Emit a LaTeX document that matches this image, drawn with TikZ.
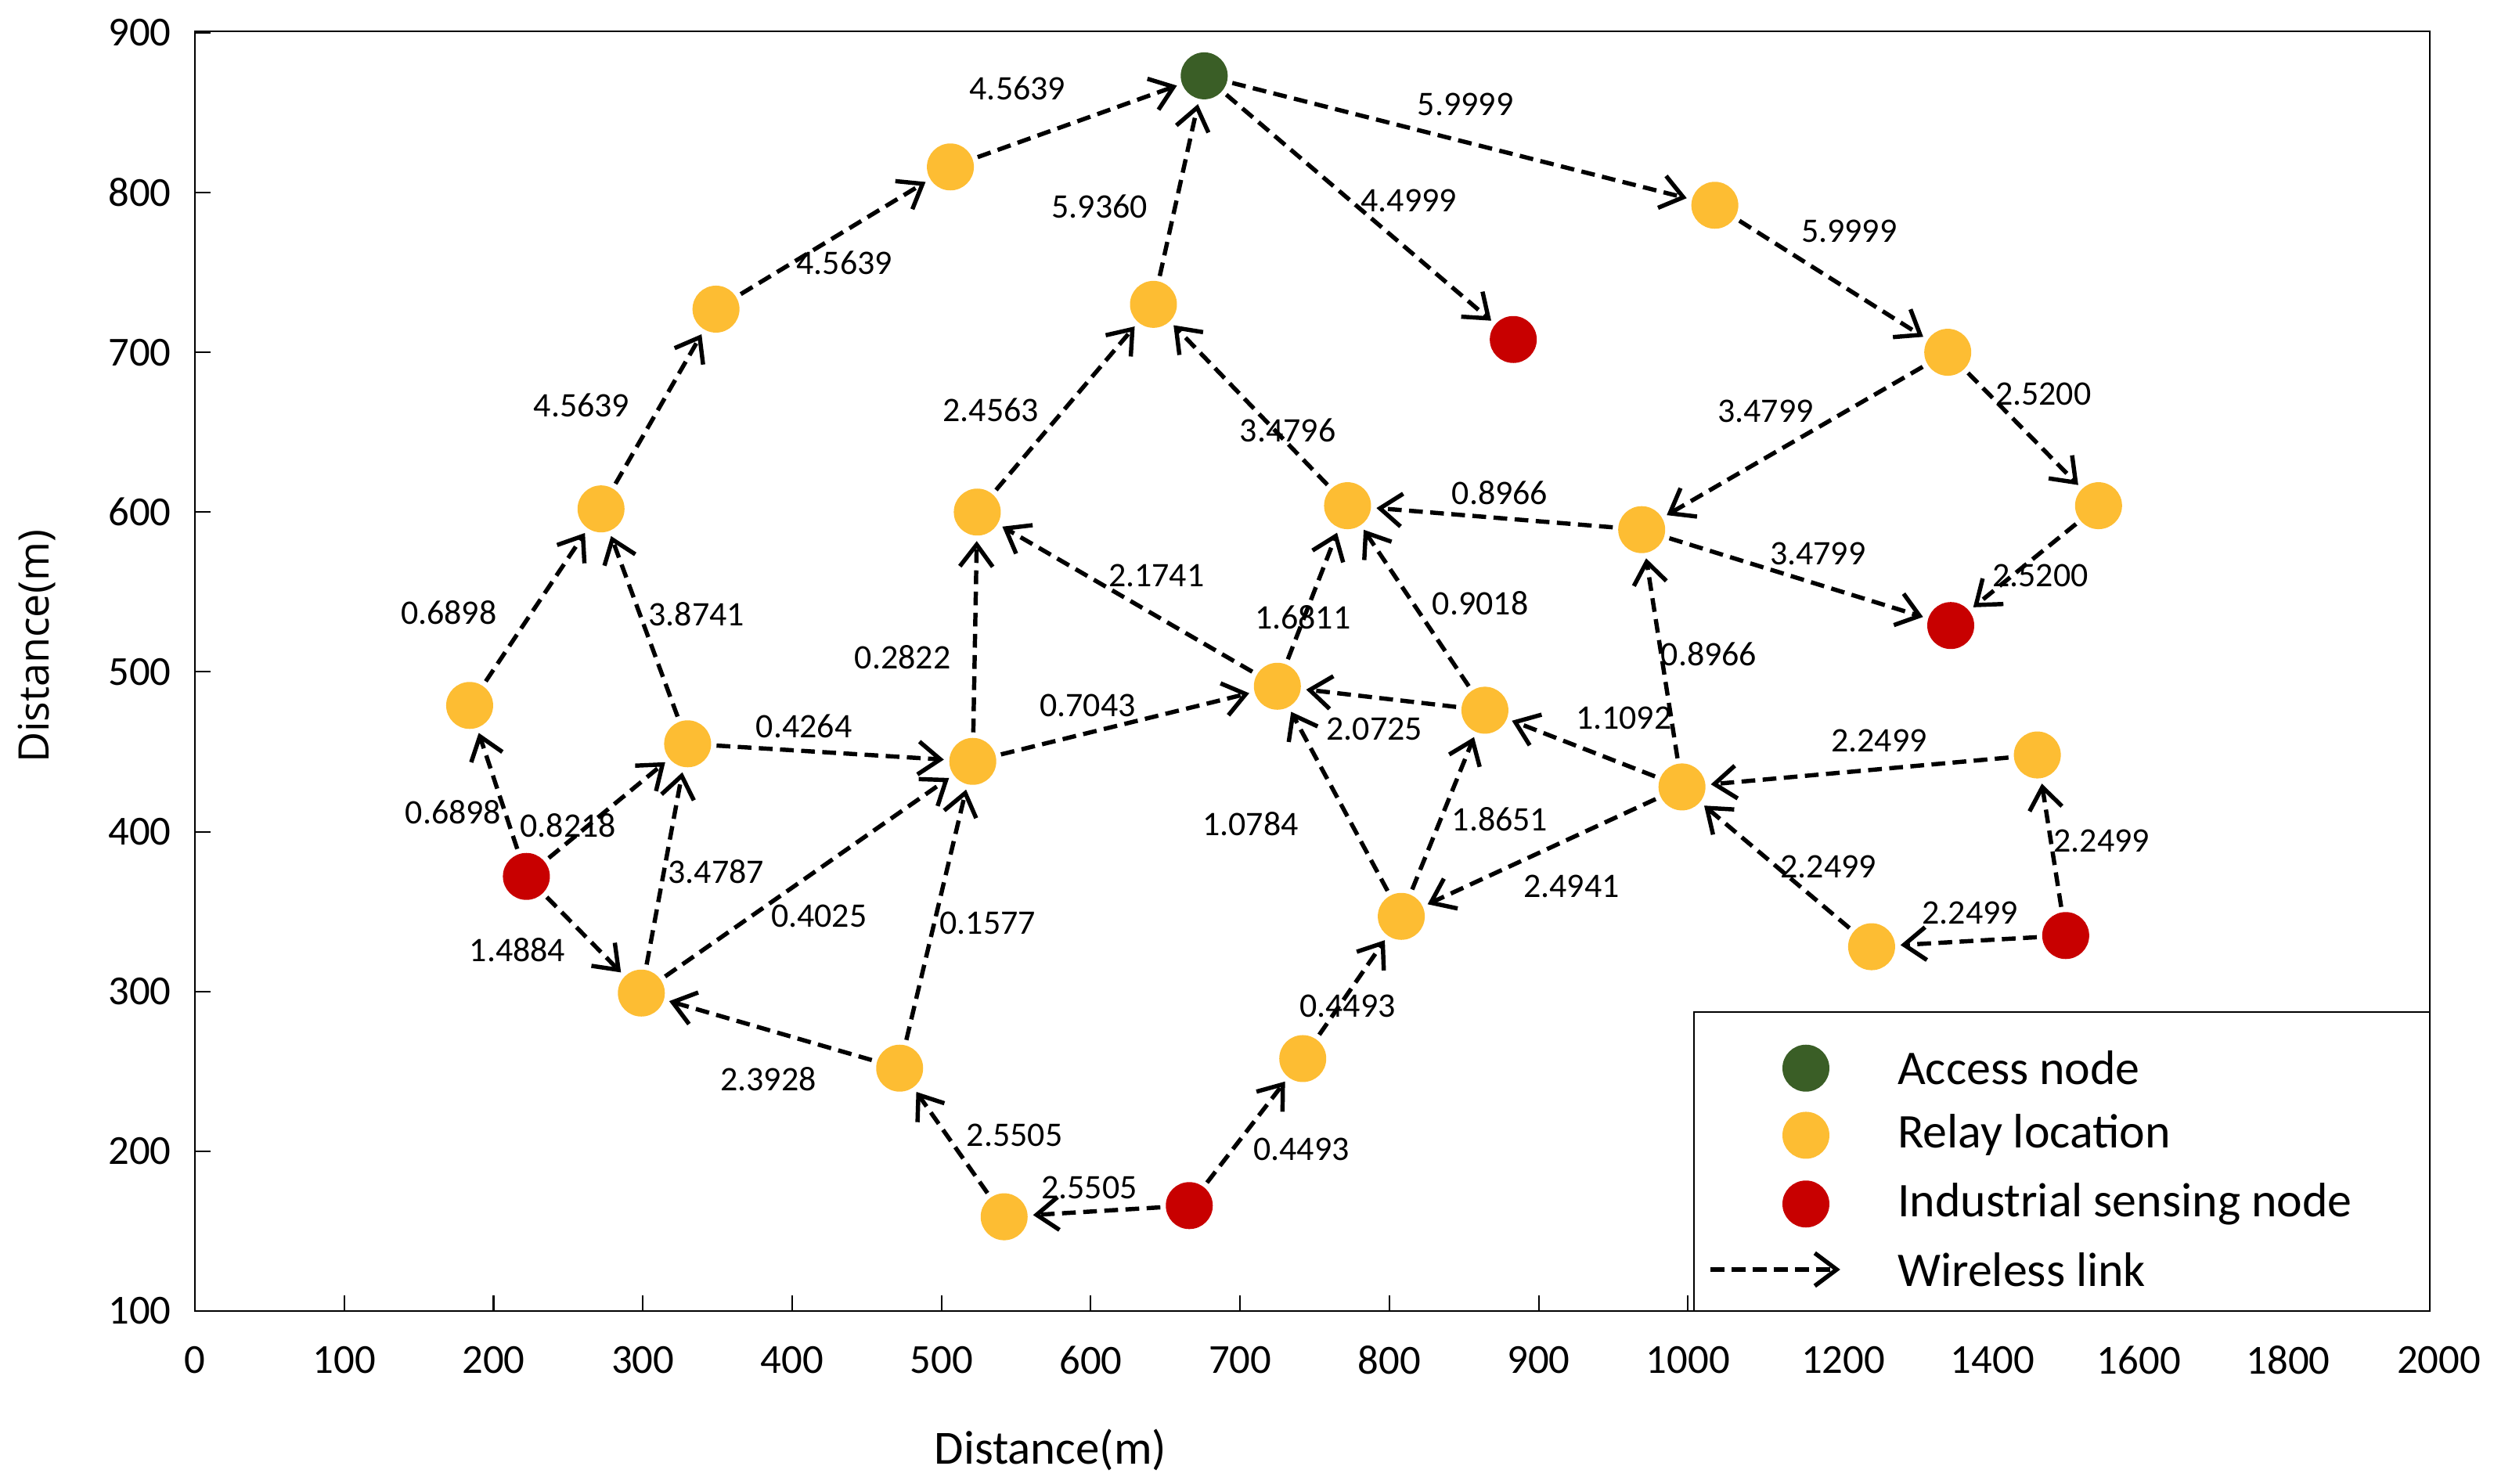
\documentclass[tikz,border=0pt]{standalone}
\usepackage{fontspec}
\setmainfont{Carlito}
\newfontfamily\titlefont{Open Sans}
\usetikzlibrary{arrows.meta}
\definecolor{accessgreen}{RGB}{58,94,38}
\definecolor{relayyellow}{RGB}{253,189,51}
\definecolor{sensered}{RGB}{200,0,0}
\tikzset{
  access/.style={circle, fill=accessgreen, minimum size=0.6cm, inner sep=0pt, outer sep=2pt},
  relay/.style={circle, fill=relayyellow, minimum size=0.6cm, inner sep=0pt, outer sep=2pt},
  sensor/.style={circle, fill=sensered, minimum size=0.6cm, inner sep=0pt, outer sep=2pt},
  link/.style={line width=1.55pt, dash pattern=on 5pt off 2.7pt,
    -{Straight Barb[length=2.8mm, width=4.2mm, line width=1.55pt]}},
  wt/.style={font=\fontsize{12.5}{14}\selectfont, inner sep=1pt},
  legtext/.style={anchor=west, inner sep=0pt, font=\fontsize{17.6}{20}\selectfont}
}
\begin{document}
\begin{tikzpicture}[font=\fontsize{15}{18}\selectfont]
\useasboundingbox (0,0) rectangle (31.86,18.95);
\node (xtitle) at (13.42,0.424) {\fontsize{17.3}{20}\selectfont Distance(m)};
\node[rotate=90] (ytitle) at (0.47,10.69) {\titlefont\fontsize{15.3}{18}\selectfont Distance(m)};
\begin{scope}[shift={(2.49cm,0.158cm)}, x=0.01908cm, y=0.02042cm]
                \draw[line width=0.6pt] (0,100) rectangle (1497,901);
                \foreach \y in {100,200,...,900} {\draw[line width=0.6pt] (0,\y) -- ++(0.2cm,0); \node[anchor=east] (yt\y) at (-9.4,\y) {\y};}
                \foreach \x in {100,200,...,1000} \draw[line width=0.6pt] (\x,100) -- ++(0,0.2cm);
                \foreach \x in {0,100,...,1000} \node (xt\x) at (\x,69.4) {\x};
                \foreach \p/\t in {1104/1200,1204/1400,1302/1600,1402/1800,1503/2000} \node (xt\t) at (\p,69.4) {\t};

                \node[access] (A) at (676,873) {};
                \node[relay] (R1) at (506,816) {};
                \node[relay] (R2) at (349,727) {};
                \node[relay] (R3) at (272,602) {};
                \node[relay] (R4) at (184,479) {};
                \node[relay] (R5) at (330,455) {};
                \node[relay] (R6) at (299,299) {};
                \node[relay] (R7) at (521,444) {};
                \node[relay] (R8) at (524,600) {};
                \node[relay] (R9) at (642,730) {};
                \node[relay] (R10) at (1018,792) {};
                \node[relay] (R11) at (1174,700) {};
                \node[relay] (R12) at (1275,604) {};
                \node[relay] (R13) at (969,589) {};
                \node[relay] (R14) at (772,604) {};
                \node[relay] (R15) at (725,491) {};
                \node[relay] (R16) at (864,476) {};
                \node[relay] (R17) at (996,428) {};
                \node[relay] (R18) at (1234,448) {};
                \node[relay] (R19) at (1123,328) {};
                \node[relay] (R20) at (808,347) {};
                \node[relay] (R21) at (742,258) {};
                \node[relay] (R22) at (542,159) {};
                \node[relay] (R23) at (472,252) {};
                \node[sensor] (S1) at (222,372) {};
                \node[sensor] (S2) at (883,708) {};
                \node[sensor] (S3) at (1176,529) {};
                \node[sensor] (S4) at (1253,335) {};
                \node[sensor] (S5) at (666,166) {};

                \draw[link] (R1) to (A); \draw[link] (R2) to (R1); \draw[link] (R3) to (R2); \draw[link] (R4) to (R3);
                \draw[link] (S1) to (R4); \draw[link] (S1) to (R5); \draw[link] (S1) to (R6); \draw[link] (R5) to (R3);
                \draw[link] (R6) to (R5); \draw[link] (R5) to (R7); \draw[link] (R6) to (R7); \draw[link] (R23) to (R6);
                \draw[link] (R23) to (R7); \draw[link] (R22) to (R23); \draw[link] (S5) to (R22); \draw[link] (S5) to (R21);
                \draw[link] (R21) to (R20); \draw[link] (R7) to (R8); \draw[link] (R8) to (R9); \draw[link] (R9) to (A);
                \draw[link] (A) to (S2); \draw[link] (A) to (R10); \draw[link] (R10) to (R11); \draw[link] (R11) to (R13);
                \draw[link] (R11) to (R12); \draw[link] (R12) to (S3); \draw[link] (R13) to (S3); \draw[link] (R13) to (R14);
                \draw[link] (R14) to (R9); \draw[link] (R15) to (R8); \draw[link] (R7) to (R15); \draw[link] (R15) to (R14);
                \draw[link] (R16) to (R14); \draw[link] (R16) to (R15); \draw[link] (R20) to (R15); \draw[link] (R20) to (R16);
                \draw[link] (R17) to (R16); \draw[link] (R17) to (R13); \draw[link] (R17) to (R20); \draw[link] (R18) to (R17);
                \draw[link] (R19) to (R17); \draw[link] (S4) to (R19); \draw[link] (S4) to (R18);

                \node[wt] (w1) at (551,865) {4.5639};
                \node[wt] (w2) at (435,756) {4.5639};
                \node[wt] (w3) at (259,667) {4.5639};
                \node[wt] (w4) at (170,537) {0.6898};
                \node[wt] (w5) at (173,412) {0.6898};
                \node[wt] (w6) at (250,404) {0.8218};
                \node[wt] (w7) at (216,326) {1.4884};
                \node[wt] (w8) at (336,536) {3.8741};
                \node[wt] (w9) at (349,375) {3.4787};
                \node[wt] (w10) at (408,466) {0.4264};
                \node[wt] (w11) at (418,347) {0.4025};
                \node[wt] (w12) at (384,245) {2.3928};
                \node[wt] (w13) at (531,343) {0.1577};
                \node[wt] (w14) at (549,210) {2.5505};
                \node[wt] (w15) at (599,177) {2.5505};
                \node[wt] (w16) at (741,201) {0.4493};
                \node[wt] (w17) at (772,291) {0.4493};
                \node[wt] (w18) at (474,509) {0.2822};
                \node[wt] (w19) at (533,664) {2.4563};
                \node[wt] (w20) at (606,791) {5.9360};
                \node[wt] (w21) at (813,795) {4.4999};
                \node[wt] (w22) at (851,855) {5.9999};
                \node[wt] (w23) at (1108,776) {5.9999};
                \node[wt] (w24) at (1052,663) {3.4799};
                \node[wt] (w25) at (1238,674) {2.5200};
                \node[wt] (w26) at (1236,560) {2.5200};
                \node[wt] (w27) at (1087,574) {3.4799};
                \node[wt] (w28) at (874,612) {0.8966};
                \node[wt] (w29) at (732,651) {3.4796};
                \node[wt] (w30) at (644,560) {2.1741};
                \node[wt] (w31) at (598,479) {0.7043};
                \node[wt] (w32) at (742,534) {1.6811};
                \node[wt] (w33) at (861,543) {0.9018};
                \node[wt] (w34) at (790,464) {2.0725};
                \node[wt] (w35) at (707,405) {1.0784};
                \node[wt] (w36) at (874,408) {1.8651};
                \node[wt] (w37) at (957,471) {1.1092};
                \node[wt] (w38) at (1014,511) {0.8966};
                \node[wt] (w39) at (922,366) {2.4941};
                \node[wt] (w40) at (1128,457) {2.2499};
                \node[wt] (w41) at (1094,378) {2.2499};
                \node[wt] (w42) at (1189,349) {2.2499};
                \node[wt] (w43) at (1277,394) {2.2499};

                \draw[fill=white, line width=0.6pt] (1004,100) rectangle (1497,287);
                \node[access] (legA) at (1079,252) {};
                \node[relay] (legR) at (1079,210) {};
                \node[sensor] (legS) at (1079,167) {};
                \coordinate (legL1) at (1015,126);
                \coordinate (legL2) at (1102,126);
                \draw[link] (legL1) -- (legL2);
                \node[legtext] (tA) at (1140,252) {Access node};
                \node[legtext] (tR) at (1140,210) {Relay location};
                \node[legtext] (tS) at (1140,167) {Industrial sensing node};
                \node[legtext] (tL) at (1140,126) {Wireless link};
\end{scope}
\end{tikzpicture}
\end{document}
